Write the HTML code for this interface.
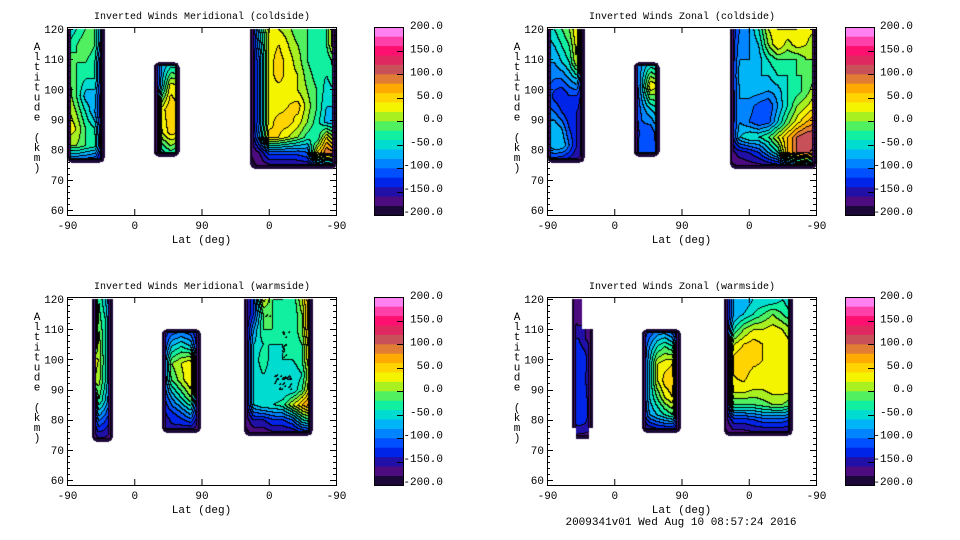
<!DOCTYPE html>
<html><head><meta charset="utf-8">
<style>
html,body{margin:0;padding:0;background:#fff;}
#wrap{position:relative;width:960px;height:540px;overflow:hidden;}
canvas,svg{position:absolute;left:0;top:0;}
text{font-family:"Liberation Mono",monospace;font-size:11px;fill:#000;}
text.cbl{font-size:11px;}
text.ttl{font-size:10px;}
</style></head>
<body>
<div id="wrap">
<canvas id="cv" width="960" height="540"></canvas>
<svg id="sv" width="960" height="540"></svg>
</div>
<script>
// ---- data (values in m/s, grids: top row = highest altitude) ----
const colorLevels = [-200,-180,-160,-140,-120,-100,-80,-60,-40,-20,0,20,40,60,80,100,120,140,160,180,200];
const cbarLabels = ["200.0","150.0","100.0","50.0","0.0","-50.0","-100.0","-150.0","-200.0"];
const cbarValues = [200,150,100,50,0,-50,-100,-150,-200];
const xTickLabels = ["-90","0","90","0","-90"];
const yTickValues = [60,70,80,90,100,110,120];
const panelTitles = ["Inverted Winds Meridional (coldside)","Inverted Winds Zonal (coldside)","Inverted Winds Meridional (warmside)","Inverted Winds Zonal (warmside)"];
// strip bounds: [trackLeft, trackRight, altBottom, altTop]
const tlBounds = [[0,0.55,76,120],[1.29,1.66,78,109],[2.72,4.0,74,120]];
const tlA = [[-60,-40,-20,-20,-110],[-40,-20,0,-20,-130],[10,-20,-20,-40,-160],[10,-20,-40,-40,-160],[20,-20,-70,-70,-160],[30,0,-40,-80,-160],[40,20,-20,-40,-160],[0,0,-20,-30,-160],[-120,-120,-120,-130,-170]];
const tlB = [[-150,-80,-60,-60],[-170,-60,30,20],[-170,30,60,40],[-170,20,50,40],[-170,-60,-40,-60]];
const tlC = [[-180,-60,30,20,10,-20,-20,-40,-20,60],[-180,-80,30,40,20,0,-20,-40,-20,60],[-180,-100,30,50,30,10,-20,-40,-40,0],[-180,-100,30,50,30,20,-10,-30,-40,-20],[-180,-100,30,30,30,20,0,-20,-50,-40],[-180,-100,30,30,40,50,10,-20,-60,-60],[-180,-100,30,50,50,30,0,-30,-70,-70],[-180,-80,50,40,20,0,-30,-40,40,-20],[-180,-160,-110,-110,-110,-110,-100,40,100,80],[-190,-180,-175,-175,-175,-170,-165,-150,-150,-160]];
const trBounds = [[0,0.55,76,120],[1.29,1.66,78,109],[2.72,4.0,74,120]];
const trA = [[-60,-40,-20,0,40,-130],[-70,-60,-40,-20,30,-150],[-80,-80,-60,-40,20,-160],[-90,-100,-100,-80,-60,-160],[-100,-130,-140,-120,-120,-160],[-90,-100,-120,-140,-140,-160],[-60,-60,-80,-120,-140,-160],[-80,-60,-60,-100,-140,-160],[-140,-140,-150,-155,-165,-170]];
const trB = [[-120,-80,-60,-80],[-140,-60,40,20],[-140,-90,-60,-40],[-140,-110,-120,-80],[-140,-100,-110,-100]];
const trC = [[-150,-100,-80,-40,20,40,40,40,30,20],[-150,-90,-80,-60,0,40,10,30,20,0],[-150,-80,-80,-70,-40,-20,-20,-20,0,0],[-150,-70,-60,-60,-60,-40,-40,-20,-20,0],[-150,-80,-70,-70,-80,-70,-40,-30,-10,20],[-150,-80,-90,-110,-120,-80,-40,0,20,40],[-150,-80,-100,-120,-110,-60,-10,30,60,80],[-150,-60,-40,-40,-20,20,60,100,120,120],[-170,-150,-140,-120,-80,-40,60,100,110,80],[-190,-180,-175,-175,-175,-170,-160,-150,-140,-160]];
const blBounds = [[0.37,0.67,73,120],[1.41,1.98,76,110],[2.63,3.64,75,120]];
const blA = [[-170,-20,-60,-120],[-170,-10,-40,-110],[-160,10,-40,-110],[30,20,-40,-110],[30,10,-40,-110],[-160,-20,-60,-120],[-170,-100,-120,-150],[-180,-170,-170,-180]];
const blB = [[-140,-120,-110,-120,-150],[-140,-60,-40,-60,-160],[-130,0,20,40,-170],[-130,-20,10,40,-170],[-140,-80,-40,0,-170],[-150,-130,-110,-80,-170],[-170,-150,-160,-170,-180]];
const blC = [[-180,-120,30,-20,-20,-40,20,100],[-180,-120,-20,-20,-30,-40,0,110],[-180,-80,-20,-20,-40,-40,0,100],[-180,-60,-40,-40,-40,-40,-20,80],[-180,-60,-20,-60,-40,-40,-20,60],[-180,-60,-40,-60,-60,-60,-40,40],[-180,-60,-40,-60,-60,-60,-20,60],[-180,-60,-40,-40,-30,20,60,100],[-180,-140,-140,-120,-120,-100,-40,-20],[-190,-180,-180,-170,-170,-170,-160,-150]];
const brBounds = [[0.37,0.67,74,120],[1.41,1.98,76,110],[2.63,3.64,75,120]];
const brA = [[-170,-170,null,null],[-160,-170,null,null],[-140,-140,-160,-170],[-130,-120,-130,-170],[-140,-120,-140,-170],[-140,-120,-130,-170],[-150,-120,-130,-170],[null,-170,-170,null]];
const brB = [[-140,-120,-100,-100,-120,-160],[-140,-80,-40,-20,-40,-170],[-140,-60,20,30,40,-180],[-140,-60,20,50,60,-180],[-140,-60,-20,20,40,-180],[-150,-80,-60,-40,-20,-170],[-170,-170,-160,-160,-170,-180]];
const brC = [[-180,-80,-80,-60,-60,-60,-40,-60],[-180,-80,-60,-40,-20,0,-20,-40],[-180,-40,0,20,20,30,20,0],[-180,20,40,50,40,30,40,20],[-180,50,60,50,40,30,40,30],[-180,40,50,30,30,30,30,30],[-180,30,30,20,20,30,30,30],[-180,-20,-20,-20,-10,0,0,-20],[-180,-130,-130,-120,-110,-110,-110,-120],[-190,-175,-175,-170,-170,-170,-170,-175]];

const bandColors = ["#1c0838","#4c0c80","#2010a8","#0024e8","#0050ff","#0084ff","#00b4f8","#00dcd0","#10f0a0","#50f060","#a8f020","#f4f400","#ffd400","#ffaa00","#e07c34","#c85058","#e02860","#ff1070","#ff40a8","#ff80f0"];

const panels = [
 {l:67,r:336,t:27,b:215,cb:374,tip:443,strips:[[tlBounds[0],tlA],[tlBounds[1],tlB],[tlBounds[2],tlC]]},
 {l:547,r:816,t:27,b:215,cb:845,tip:913,strips:[[trBounds[0],trA],[trBounds[1],trB],[trBounds[2],trC]]},
 {l:67,r:336,t:297,b:485,cb:374,tip:443,strips:[[blBounds[0],blA],[blBounds[1],blB],[blBounds[2],blC]]},
 {l:547,r:816,t:297,b:485,cb:845,tip:913,strips:[[brBounds[0],brA],[brBounds[1],brB],[brBounds[2],brC]]}
];
function xOf(p,tr){return p.l + tr*(p.r-p.l)/4;}
function yOf(p,alt){return p.t + 2 + (120-alt)*3.017;}
function bandOf(v){let i=0;while(i<19 && v>=colorLevels[i+1])i++;return i;}

const cv=document.getElementById('cv');const ctx=cv.getContext('2d');
const img=ctx.createImageData(960,540);const D=img.data;
for(let i=0;i<D.length;i+=4){D[i]=255;D[i+1]=255;D[i+2]=255;D[i+3]=255;}
function hex(c){return [parseInt(c.substr(1,2),16),parseInt(c.substr(3,2),16),parseInt(c.substr(5,2),16)];}
const rgb=bandColors.map(hex);
const RAD=4;
panels.forEach(p=>{
  const W=960;const bandArr=new Int16Array(960*540).fill(-1);
  p.strips.forEach(([bd,g])=>{
    const X0=xOf(p,bd[0]),X1=xOf(p,bd[1]),Y0=yOf(p,bd[3]),Y1=yOf(p,bd[2]);
    const rows=g.length,cols=g[0].length;
    const topClip=(Y0<=p.t+3);
    for(let y=Math.round(Y0);y<=Math.round(Y1);y++){
      for(let x=Math.round(X0);x<=Math.round(X1);x++){
        if(y<p.t+1||y>p.b-1)continue;
        const u=Math.min(Math.max((x-X0)/(X1-X0),0),1)*(cols-1);
        const v=Math.min(Math.max((y-Y0)/(Y1-Y0),0),1)*(rows-1);
        const i0=Math.min(Math.floor(u),cols-2),j0=Math.min(Math.floor(v),rows-2);
        const fu=u-i0,fv=v-j0;
        const ni=Math.round(u),nj=Math.round(v);
        if(g[nj][ni]===null)continue;
        let s=0,w=0;
        [[0,0,(1-fu)*(1-fv)],[1,0,fu*(1-fv)],[0,1,(1-fu)*fv],[1,1,fu*fv]].forEach(([di,dj,ww])=>{
          const val=g[j0+dj][i0+di];if(val!==null){s+=val*ww;w+=ww;}
        });
        if(w<=0)continue;
        let val=s/w;
        const dx=Math.min(x-X0,X1-x);
        const dyE=topClip?(Y1-y):Math.min(y-Y0,Y1-y);
        let d;
        if(dx<RAD&&dyE<RAD){d=RAD-Math.hypot(RAD-dx,RAD-dyE);if(d<0)continue;}
        else d=Math.min(dx,dyE);
        if(d<2)val=-185;else if(d<3.5)val=Math.min(val,-165);
        bandArr[y*W+x]=bandOf(val);
      }
    }
  });
  for(let y=p.t;y<=p.b;y++)for(let x=p.l;x<=p.r;x++){
    const b=bandArr[y*960+x];if(b<0)continue;
    const k=(y*960+x)*4;let c=rgb[b];
    const br=bandArr[y*960+x+1],bb=bandArr[(y+1)*960+x];
    if((br>=0&&br!==b)||(bb>=0&&bb!==b))c=[0,0,0];
    D[k]=c[0];D[k+1]=c[1];D[k+2]=c[2];
  }
});
ctx.putImageData(img,0,0);

// ---- axes ----
const NS="http://www.w3.org/2000/svg";const sv=document.getElementById('sv');
function mk(tag,attrs,parent){const e=document.createElementNS(NS,tag);for(const k in attrs)e.setAttribute(k,attrs[k]);(parent||sv).appendChild(e);return e;}
const altTxt="Altitude (km)";
panels.forEach((p,pi)=>{
  const g=mk('g',{});
  
  
  const fr=mk('rect',{x:p.l+0.5,y:p.t+0.5,width:p.r-p.l,height:p.b-p.t,fill:'none',stroke:'#000','stroke-width':1},g);
  
  
  const ti=mk('text',{x:(p.l+p.r)/2+0.5,y:p.t-8,'text-anchor':'middle','class':'ttl'},g);ti.textContent=panelTitles[pi];
  
  
  xTickLabels.forEach((lb,i)=>{
    const x=xOf(p,i)+0.5;
    const t1=mk('line',{x1:x,x2:x,y1:p.b,y2:p.b-6,stroke:'#000'},g);
    
    
    const t2=mk('line',{x1:x,x2:x,y1:p.t,y2:p.t+6,stroke:'#000'},g);
    
    
    const tx=mk('text',{x:x,y:p.b+14,'text-anchor':'middle'},g);tx.textContent=lb;
    
    
  });
  const xl=mk('text',{x:(p.l+p.r)/2,y:p.b+28,'text-anchor':'middle'},g);xl.textContent="Lat (deg)";
  
  
  for(let a=60;a<=120;a+=2){
    const y=Math.round(yOf(p,a))+0.5;const len=(a%10===0)?6:3;
    const m1=mk('line',{x1:p.l,x2:p.l+len,y1:y,y2:y,stroke:'#000'},g);
    
    
    const m2=mk('line',{x1:p.r,x2:p.r-len,y1:y,y2:y,stroke:'#000'},g);
    
    
  }
  yTickValues.forEach(a=>{
    const t=mk('text',{x:p.l-3,y:yOf(p,a)+4,'text-anchor':'end'},g);t.textContent=String(a);
    
    
  });
  const yt=mk('text',{x:p.l-30,y:p.t+23,'text-anchor':'middle'},g);
  
  
  for(let i=0;i<altTxt.length;i++){const ts=mk('tspan',{x:p.l-30,dy:i?10.1:0},yt);ts.textContent=altTxt[i];}
  // colorbar
  const cg=mk('g',{},g);
  
  
  const bh=(p.b-p.t)/20;
  bandColors.forEach((c,i)=>{
    const r=mk('rect',{x:p.cb,y:p.b-(i+1)*bh,width:29,height:bh+0.3,fill:c},cg);
    
    
  });
  const cf=mk('rect',{x:p.cb+0.5,y:p.t+0.5,width:29,height:p.b-p.t,fill:'none',stroke:'#000'},cg);
  
  
  cbarValues.forEach((v,i)=>{
    const y=p.b-(v+200)/400*(p.b-p.t);
    const tk=mk('line',{x1:p.cb+23,x2:p.cb+29,y1:Math.round(y)+0.5,y2:Math.round(y)+0.5,stroke:'#000'},cg);
    
    
    const ly=p.t-2+i*(p.b-p.t-2)/8;
    const t=mk('text',{x:p.tip,y:ly+4,'text-anchor':'end','class':'cbl'},cg);t.textContent=cbarLabels[i];
    
    
  });
});
const ft=mk('text',{x:681,y:525,'text-anchor':'middle'});ft.textContent="2009341v01 Wed Aug 10 08:57:24 2016";


</script>
</body></html>
